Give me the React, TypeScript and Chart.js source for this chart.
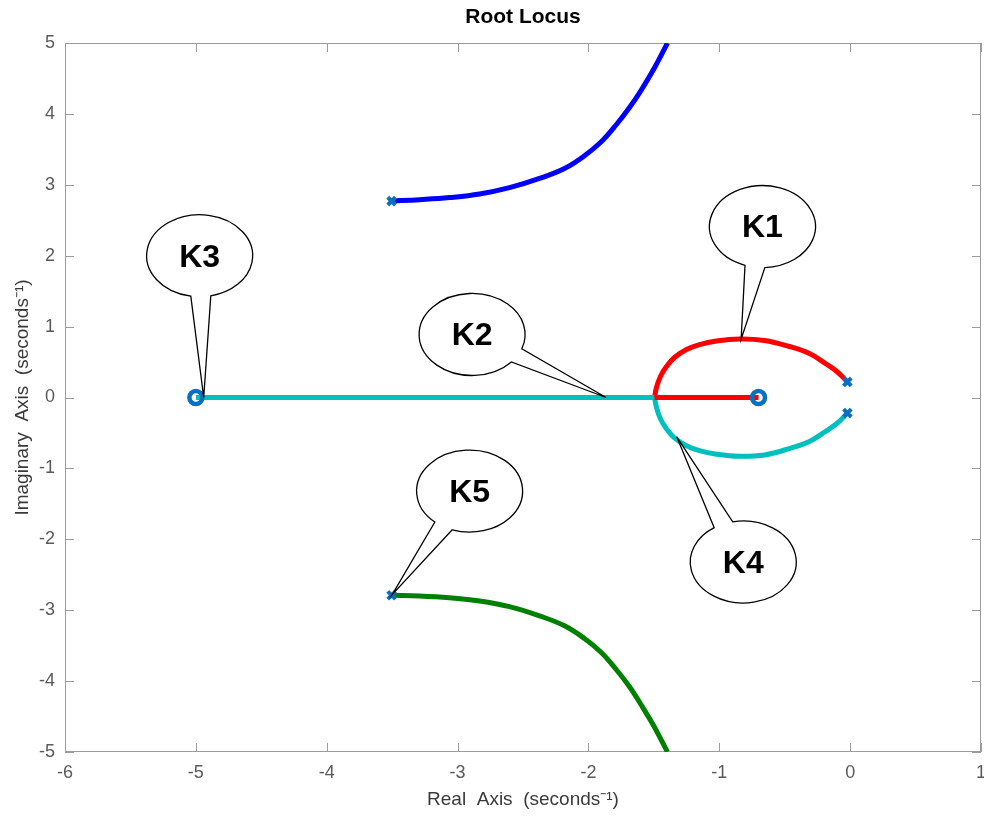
import React, { useEffect, useRef } from 'react';
import { Chart, registerables } from 'chart.js';

Chart.register(...registerables);

// Axis ticks
const xTickValues = [-6, -5, -4, -3, -2, -1, 0, 1];
const yTickValues = [-5, -4, -3, -2, -1, 0, 1, 2, 3, 4, 5];

// Upper complex branch (blue)
const upperBranchX = [-3.504, -3.291, -3.062, -2.832, -2.603, -2.374, -2.183, -2.030, -1.900, -1.786, -1.686, -1.595, -1.495, -1.396];
const upperBranchY = [2.77, 2.79, 2.82, 2.87, 2.96, 3.09, 3.23, 3.41, 3.61, 3.85, 4.09, 4.34, 4.65, 5.00];

// Lower complex branch (green)
const lowerBranchX = [-3.504, -3.291, -3.062, -2.832, -2.603, -2.374, -2.183, -2.030, -1.900, -1.786, -1.686, -1.595, -1.495, -1.396];
const lowerBranchY = [-2.79, -2.80, -2.825, -2.87, -2.95, -3.08, -3.22, -3.40, -3.60, -3.84, -4.08, -4.34, -4.65, -5.00];

// Upper loop near the origin (red)
const upperLoopX = [-1.495, -1.480, -1.450, -1.404, -1.343, -1.251, -1.151, -1.022, -0.846, -0.655, -0.464, -0.311, -0.189, -0.097, -0.021];
const upperLoopY = [0, 0.141, 0.296, 0.437, 0.564, 0.677, 0.747, 0.797, 0.825, 0.804, 0.719, 0.62, 0.48, 0.36, 0.22];

// Lower loop near the origin (cyan)
const lowerLoopX = [-1.495, -1.480, -1.450, -1.404, -1.343, -1.251, -1.151, -1.022, -0.846, -0.655, -0.464, -0.311, -0.189, -0.097, -0.021];
const lowerLoopY = [0, -0.14, -0.30, -0.44, -0.57, -0.68, -0.75, -0.80, -0.83, -0.81, -0.72, -0.62, -0.48, -0.36, -0.22];

// Real-axis segments
const redRealX = [-1.495, -0.70];
const redRealY = [0, 0];
const cyanRealX = [-5.0, -1.495];
const cyanRealY = [0, 0];

// Open-loop poles and zeros
const poleX = [-3.504, -3.504, -0.021, -0.021];
const poleY = [2.77, -2.79, 0.22, -0.22];
const zeroX = [-5.0, -0.70];
const zeroY = [0, 0];

// Gain callouts: label, pointer tip and bubble centre (axis units)
const calloutLabels = ['K1', 'K2', 'K3', 'K4', 'K5'];
const calloutTipX = [-0.833, -1.865, -4.94, -1.325, -3.50];
const calloutTipY = [0.822, 0, 0, -0.555, -2.78];
const calloutBoxX = [-0.670, -2.889, -4.971, -0.817, -2.908];
const calloutBoxY = [2.41, 0.889, 2.00, -2.32, -1.32];

const FONT = '"Liberation Sans", Arial, Helvetica, sans-serif';

const toPoints = (xs: number[], ys: number[]) => xs.map((x, i) => ({ x, y: ys[i] }));

const frameTicksPlugin = {
  id: 'frameTicks',
  beforeDatasetsDraw(chart: any) {
    const { ctx, chartArea } = chart;
    const { left, right, top, bottom } = chartArea;
    const xs = chart.scales.x;
    const ys = chart.scales.y;
    const len = 9;
    ctx.save();
    ctx.strokeStyle = '#9c9c9c';
    ctx.lineWidth = 1;
    ctx.strokeRect(left + 0.5, top + 0.5, right - left - 1, bottom - top - 1);
    ctx.beginPath();
    xTickValues.forEach((v) => {
      const px = Math.round(xs.getPixelForValue(v)) + 0.5;
      ctx.moveTo(px, bottom);
      ctx.lineTo(px, bottom - len);
      ctx.moveTo(px, top);
      ctx.lineTo(px, top + len);
    });
    yTickValues.forEach((v) => {
      const py = Math.round(ys.getPixelForValue(v)) + 0.5;
      ctx.moveTo(left, py);
      ctx.lineTo(left + len, py);
      ctx.moveTo(right, py);
      ctx.lineTo(right - len, py);
    });
    ctx.stroke();
    ctx.restore();
  },
};

const calloutPlugin = {
  id: 'callouts',
  afterDatasetsDraw(chart: any) {
    const { ctx } = chart;
    const xs = chart.scales.x;
    const ys = chart.scales.y;
    const rx = 53;
    const ry = 41;
    const spread = 0.19;
    ctx.save();
    calloutLabels.forEach((label, i) => {
      const cx = xs.getPixelForValue(calloutBoxX[i]);
      const cy = ys.getPixelForValue(calloutBoxY[i]);
      const tx = xs.getPixelForValue(calloutTipX[i]);
      const ty = ys.getPixelForValue(calloutTipY[i]);
      const t0 = Math.atan2((ty - cy) / ry, (tx - cx) / rx);
      ctx.beginPath();
      ctx.ellipse(cx, cy, rx, ry, 0, t0 + spread, t0 - spread + Math.PI * 2);
      ctx.lineTo(tx, ty);
      ctx.closePath();
      ctx.fillStyle = '#ffffff';
      ctx.fill();
      ctx.strokeStyle = '#000000';
      ctx.lineWidth = 1.3;
      ctx.lineJoin = 'miter';
      ctx.stroke();
      ctx.fillStyle = '#000000';
      ctx.font = `bold 32px ${FONT}`;
      ctx.textAlign = 'center';
      ctx.textBaseline = 'middle';
      ctx.fillText(label, cx, cy + 2);
    });
    ctx.restore();
  },
};

export default function App() {
  const canvasRef = useRef<HTMLCanvasElement | null>(null);

  useEffect(() => {
    if (!canvasRef.current) return;
    const lineStyle = {
      showLine: true,
      pointRadius: 0,
      pointHoverRadius: 0,
      borderWidth: 5,
      tension: 0.4,
      fill: false,
      borderJoinStyle: 'round' as const,
      borderCapStyle: 'butt' as const,
    };
    const chart = new Chart(canvasRef.current, {
      type: 'scatter',
      data: {
        datasets: [
          {
            label: 'Zeros',
            data: toPoints(zeroX, zeroY),
            pointStyle: 'circle',
            pointRadius: 6.5,
            borderWidth: 4.5,
            borderColor: '#0b6fc0',
            backgroundColor: 'rgba(0,0,0,0)',
            showLine: false,
            order: 0,
          },
          {
            label: 'Poles',
            data: toPoints(poleX, poleY),
            pointStyle: 'crossRot',
            pointRadius: 5.5,
            borderWidth: 4,
            borderColor: '#0b6fc0',
            backgroundColor: '#0b6fc0',
            showLine: false,
            order: 1,
          },
          { label: 'Upper branch', data: toPoints(upperBranchX, upperBranchY), borderColor: '#0000ff', ...lineStyle, order: 5 },
          { label: 'Lower branch', data: toPoints(lowerBranchX, lowerBranchY), borderColor: '#008000', ...lineStyle, order: 5 },
          { label: 'Upper loop', data: toPoints(upperLoopX, upperLoopY), borderColor: '#ff0000', ...lineStyle, order: 4 },
          { label: 'Lower loop', data: toPoints(lowerLoopX, lowerLoopY), borderColor: '#00bfbf', ...lineStyle, order: 4 },
          { label: 'Red real segment', data: toPoints(redRealX, redRealY), borderColor: '#ff0000', ...lineStyle, tension: 0, order: 3 },
          { label: 'Cyan real segment', data: toPoints(cyanRealX, cyanRealY), borderColor: '#00bfbf', ...lineStyle, tension: 0, order: 3 },
        ],
      },
      options: {
        animation: false,
        responsive: false,
        devicePixelRatio: 1,
        events: [],
        layout: { autoPadding: false, padding: { top: 0, right: 3, bottom: 0, left: 0 } },
        plugins: {
          legend: { display: false },
          tooltip: { enabled: false },
          title: {
            display: true,
            fullSize: false,
            text: 'Root Locus',
            color: '#000000',
            font: { family: FONT, size: 21, weight: 'bold', lineHeight: 1.2 },
            padding: { top: 5, bottom: 12.8 },
          },
        },
        scales: {
          x: {
            type: 'linear',
            min: -6,
            max: 1,
            grid: { display: false, drawTicks: false },
            border: { display: false },
            afterBuildTicks: (s: any) => {
              s.ticks = xTickValues.map((v) => ({ value: v }));
            },
            afterFit: (s: any) => {
              s.height = 64;
              s.paddingLeft = 0;
              s.paddingRight = 0;
            },
            ticks: {
              color: '#5a5a5a',
              font: { family: FONT, size: 18 },
              padding: 10,
              maxRotation: 0,
              autoSkip: false,
            },
            title: {
              display: true,
              text: 'Real  Axis  (seconds⁻¹)',
              color: '#3a3a3a',
              font: { family: FONT, size: 19 },
              padding: { top: 0, bottom: 5 },
            },
          },
          y: {
            type: 'linear',
            min: -5,
            max: 5,
            grid: { display: false, drawTicks: false },
            border: { display: false },
            afterBuildTicks: (s: any) => {
              s.ticks = yTickValues.map((v) => ({ value: v }));
            },
            afterFit: (s: any) => {
              s.width = 65;
              s.paddingTop = 0;
              s.paddingBottom = 0;
            },
            ticks: {
              color: '#5a5a5a',
              font: { family: FONT, size: 18 },
              padding: 10,
              autoSkip: false,
            },
            title: {
              display: true,
              text: 'Imaginary  Axis  (seconds⁻¹)',
              color: '#3a3a3a',
              font: { family: FONT, size: 19 },
              padding: { top: 11, bottom: 0 },
            },
          },
        },
      },
      plugins: [frameTicksPlugin, calloutPlugin],
    });
    return () => chart.destroy();
  }, []);

  return (
    <div style={{ position: 'fixed', left: 0, top: 0, width: 984, height: 816, background: '#ffffff' }}>
      <canvas ref={canvasRef} width={984} height={816} style={{ display: 'block' }} />
    </div>
  );
}
